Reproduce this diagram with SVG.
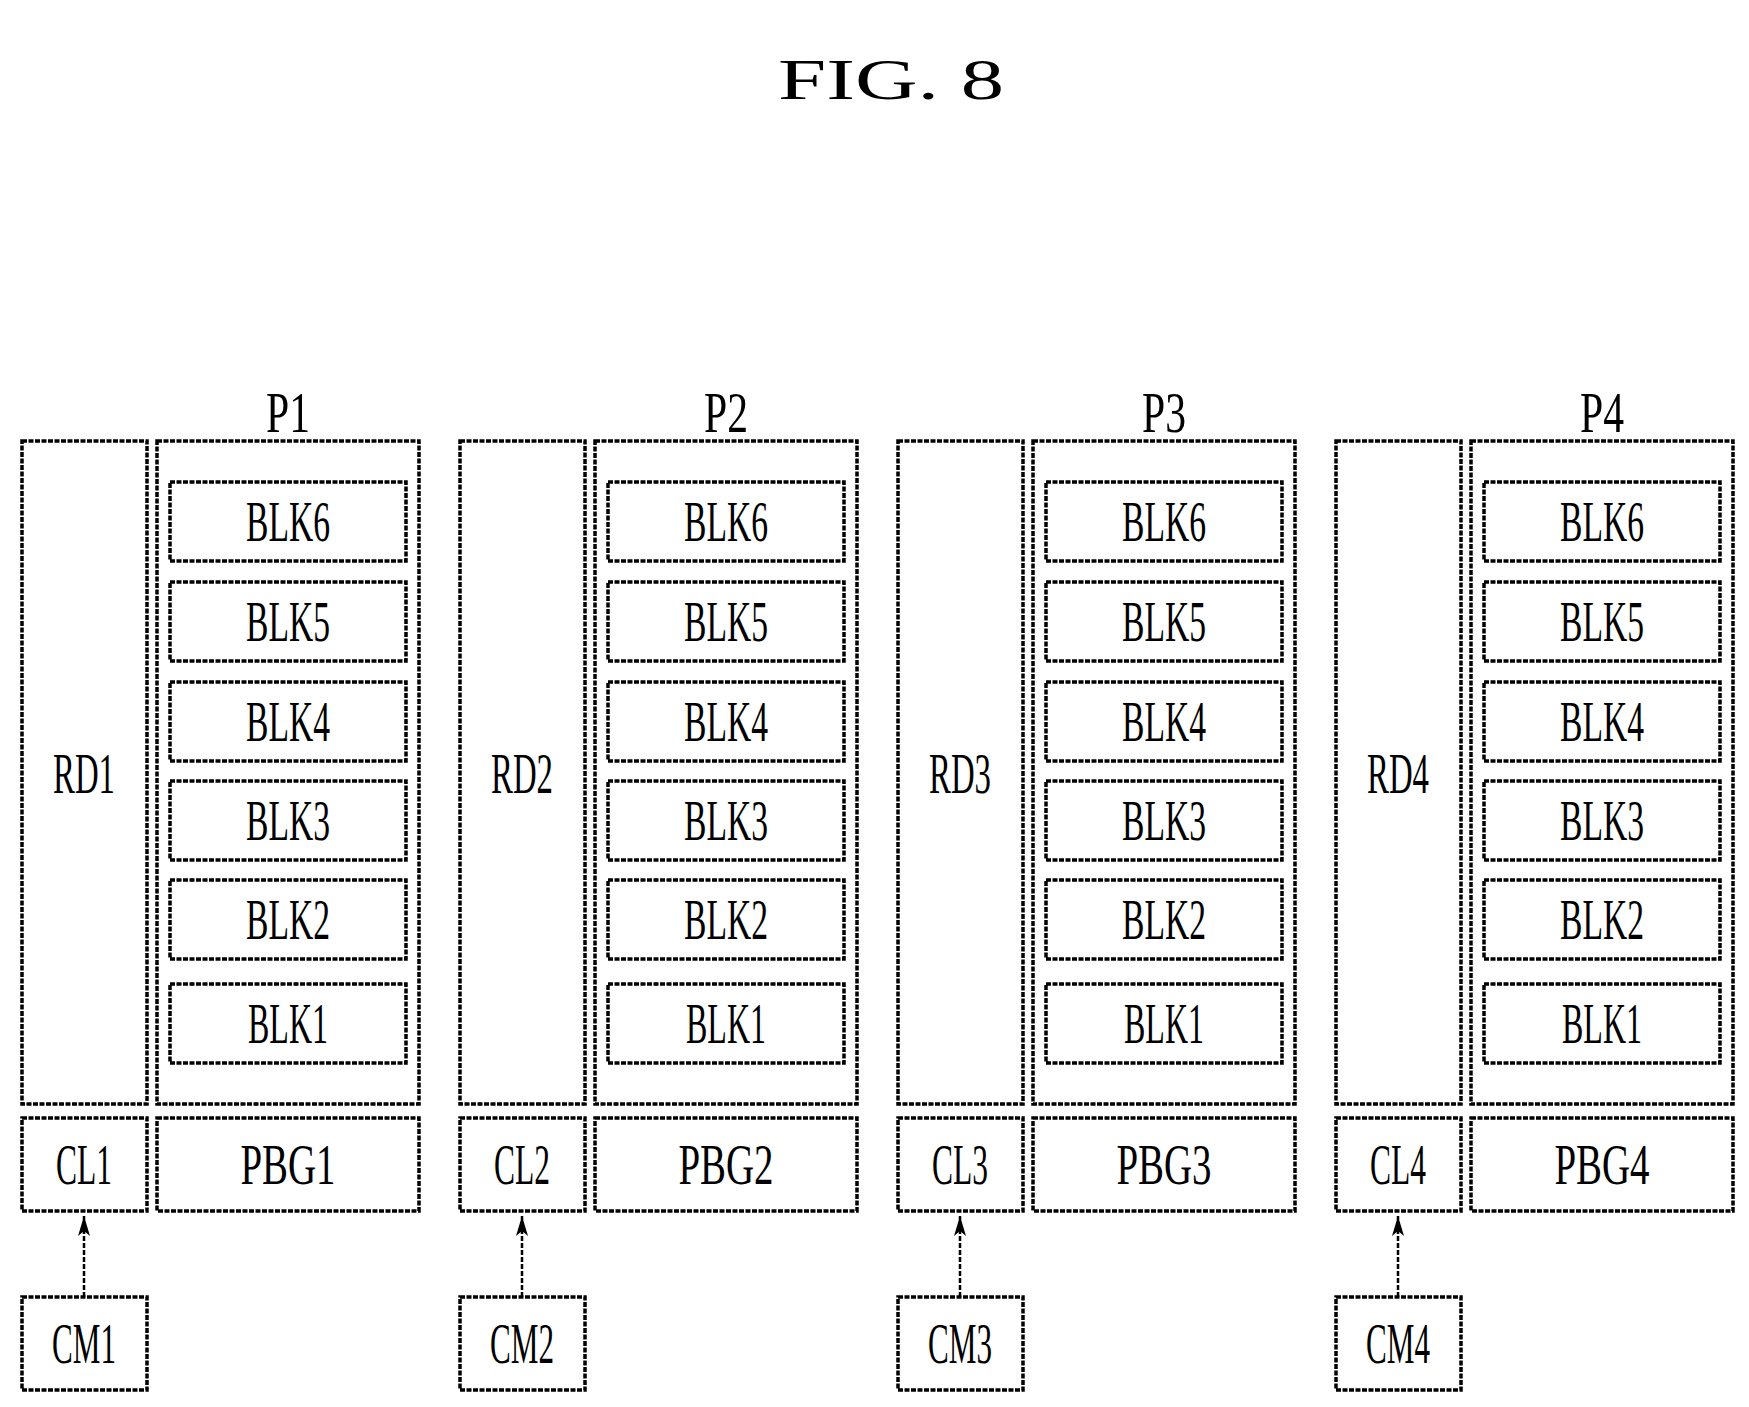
<svg xmlns="http://www.w3.org/2000/svg" width="1749" height="1407" viewBox="0 0 1749 1407">
<style>
rect{fill:none;stroke:#000;stroke-width:3.5;stroke-dasharray:5 1.5}
text{font-family:"Liberation Serif",serif;font-size:58px;text-anchor:middle;fill:#000}
.c{stroke:#000;stroke-width:2.5;stroke-dasharray:5 2;fill:none}
</style>
<defs><marker id="ah" markerWidth="24" markerHeight="14" refX="22" refY="7" orient="auto" markerUnits="userSpaceOnUse"><path d="M22 7 L2 1 L7 7 L2 13 Z" fill="#000"/></marker></defs>
<rect width="1749" height="1407" style="fill:#fff;stroke:none"/>
<text x="891" y="99" font-size="100" textLength="226" lengthAdjust="spacingAndGlyphs">FIG. 8</text>
<g id="col1">
<g id="P1"><text x="288" y="432" textLength="44" lengthAdjust="spacingAndGlyphs">P1</text><rect x="157" y="441" width="262" height="663"/></g>
<g id="RD1"><rect x="22" y="441" width="125" height="663"/><text x="84" y="793" textLength="62" lengthAdjust="spacingAndGlyphs">RD1</text></g>
<g id="P1-BLK6"><rect x="170" y="482" width="236" height="79"/><text x="288" y="541" textLength="84" lengthAdjust="spacingAndGlyphs">BLK6</text></g>
<g id="P1-BLK5"><rect x="170" y="582" width="236" height="79"/><text x="288" y="641" textLength="84" lengthAdjust="spacingAndGlyphs">BLK5</text></g>
<g id="P1-BLK4"><rect x="170" y="682" width="236" height="79"/><text x="288" y="741" textLength="84" lengthAdjust="spacingAndGlyphs">BLK4</text></g>
<g id="P1-BLK3"><rect x="170" y="781" width="236" height="79"/><text x="288" y="840" textLength="84" lengthAdjust="spacingAndGlyphs">BLK3</text></g>
<g id="P1-BLK2"><rect x="170" y="880" width="236" height="79"/><text x="288" y="939" textLength="84" lengthAdjust="spacingAndGlyphs">BLK2</text></g>
<g id="P1-BLK1"><rect x="170" y="984" width="236" height="79"/><text x="288" y="1043" textLength="80" lengthAdjust="spacingAndGlyphs">BLK1</text></g>
<g id="CL1"><rect x="22" y="1118" width="125" height="93"/><text x="84" y="1184" textLength="56" lengthAdjust="spacingAndGlyphs">CL1</text></g>
<g id="PBG1"><rect x="157" y="1118" width="262" height="93"/><text x="288" y="1184" textLength="95" lengthAdjust="spacingAndGlyphs">PBG1</text></g>
<g id="CM1"><rect x="22" y="1297" width="125" height="93"/><text x="84" y="1363" textLength="64" lengthAdjust="spacingAndGlyphs">CM1</text></g>
</g>
<g id="col2" transform="translate(438,0)">
<g id="P2"><text x="288" y="432" textLength="44" lengthAdjust="spacingAndGlyphs">P2</text><rect x="157" y="441" width="262" height="663"/></g>
<g id="RD2"><rect x="22" y="441" width="125" height="663"/><text x="84" y="793" textLength="62" lengthAdjust="spacingAndGlyphs">RD2</text></g>
<g id="P2-BLK6"><rect x="170" y="482" width="236" height="79"/><text x="288" y="541" textLength="84" lengthAdjust="spacingAndGlyphs">BLK6</text></g>
<g id="P2-BLK5"><rect x="170" y="582" width="236" height="79"/><text x="288" y="641" textLength="84" lengthAdjust="spacingAndGlyphs">BLK5</text></g>
<g id="P2-BLK4"><rect x="170" y="682" width="236" height="79"/><text x="288" y="741" textLength="84" lengthAdjust="spacingAndGlyphs">BLK4</text></g>
<g id="P2-BLK3"><rect x="170" y="781" width="236" height="79"/><text x="288" y="840" textLength="84" lengthAdjust="spacingAndGlyphs">BLK3</text></g>
<g id="P2-BLK2"><rect x="170" y="880" width="236" height="79"/><text x="288" y="939" textLength="84" lengthAdjust="spacingAndGlyphs">BLK2</text></g>
<g id="P2-BLK1"><rect x="170" y="984" width="236" height="79"/><text x="288" y="1043" textLength="80" lengthAdjust="spacingAndGlyphs">BLK1</text></g>
<g id="CL2"><rect x="22" y="1118" width="125" height="93"/><text x="84" y="1184" textLength="56" lengthAdjust="spacingAndGlyphs">CL2</text></g>
<g id="PBG2"><rect x="157" y="1118" width="262" height="93"/><text x="288" y="1184" textLength="95" lengthAdjust="spacingAndGlyphs">PBG2</text></g>
<g id="CM2"><rect x="22" y="1297" width="125" height="93"/><text x="84" y="1363" textLength="64" lengthAdjust="spacingAndGlyphs">CM2</text></g>
</g>
<g id="col3" transform="translate(876,0)">
<g id="P3"><text x="288" y="432" textLength="44" lengthAdjust="spacingAndGlyphs">P3</text><rect x="157" y="441" width="262" height="663"/></g>
<g id="RD3"><rect x="22" y="441" width="125" height="663"/><text x="84" y="793" textLength="62" lengthAdjust="spacingAndGlyphs">RD3</text></g>
<g id="P3-BLK6"><rect x="170" y="482" width="236" height="79"/><text x="288" y="541" textLength="84" lengthAdjust="spacingAndGlyphs">BLK6</text></g>
<g id="P3-BLK5"><rect x="170" y="582" width="236" height="79"/><text x="288" y="641" textLength="84" lengthAdjust="spacingAndGlyphs">BLK5</text></g>
<g id="P3-BLK4"><rect x="170" y="682" width="236" height="79"/><text x="288" y="741" textLength="84" lengthAdjust="spacingAndGlyphs">BLK4</text></g>
<g id="P3-BLK3"><rect x="170" y="781" width="236" height="79"/><text x="288" y="840" textLength="84" lengthAdjust="spacingAndGlyphs">BLK3</text></g>
<g id="P3-BLK2"><rect x="170" y="880" width="236" height="79"/><text x="288" y="939" textLength="84" lengthAdjust="spacingAndGlyphs">BLK2</text></g>
<g id="P3-BLK1"><rect x="170" y="984" width="236" height="79"/><text x="288" y="1043" textLength="80" lengthAdjust="spacingAndGlyphs">BLK1</text></g>
<g id="CL3"><rect x="22" y="1118" width="125" height="93"/><text x="84" y="1184" textLength="56" lengthAdjust="spacingAndGlyphs">CL3</text></g>
<g id="PBG3"><rect x="157" y="1118" width="262" height="93"/><text x="288" y="1184" textLength="95" lengthAdjust="spacingAndGlyphs">PBG3</text></g>
<g id="CM3"><rect x="22" y="1297" width="125" height="93"/><text x="84" y="1363" textLength="64" lengthAdjust="spacingAndGlyphs">CM3</text></g>
</g>
<g id="col4" transform="translate(1314,0)">
<g id="P4"><text x="288" y="432" textLength="44" lengthAdjust="spacingAndGlyphs">P4</text><rect x="157" y="441" width="262" height="663"/></g>
<g id="RD4"><rect x="22" y="441" width="125" height="663"/><text x="84" y="793" textLength="62" lengthAdjust="spacingAndGlyphs">RD4</text></g>
<g id="P4-BLK6"><rect x="170" y="482" width="236" height="79"/><text x="288" y="541" textLength="84" lengthAdjust="spacingAndGlyphs">BLK6</text></g>
<g id="P4-BLK5"><rect x="170" y="582" width="236" height="79"/><text x="288" y="641" textLength="84" lengthAdjust="spacingAndGlyphs">BLK5</text></g>
<g id="P4-BLK4"><rect x="170" y="682" width="236" height="79"/><text x="288" y="741" textLength="84" lengthAdjust="spacingAndGlyphs">BLK4</text></g>
<g id="P4-BLK3"><rect x="170" y="781" width="236" height="79"/><text x="288" y="840" textLength="84" lengthAdjust="spacingAndGlyphs">BLK3</text></g>
<g id="P4-BLK2"><rect x="170" y="880" width="236" height="79"/><text x="288" y="939" textLength="84" lengthAdjust="spacingAndGlyphs">BLK2</text></g>
<g id="P4-BLK1"><rect x="170" y="984" width="236" height="79"/><text x="288" y="1043" textLength="80" lengthAdjust="spacingAndGlyphs">BLK1</text></g>
<g id="CL4"><rect x="22" y="1118" width="125" height="93"/><text x="84" y="1184" textLength="56" lengthAdjust="spacingAndGlyphs">CL4</text></g>
<g id="PBG4"><rect x="157" y="1118" width="262" height="93"/><text x="288" y="1184" textLength="95" lengthAdjust="spacingAndGlyphs">PBG4</text></g>
<g id="CM4"><rect x="22" y="1297" width="125" height="93"/><text x="84" y="1363" textLength="64" lengthAdjust="spacingAndGlyphs">CM4</text></g>
</g>
<g id="connectors">
<path class="c" d="M84 1297 V1216" marker-end="url(#ah)"/>
<path class="c" d="M522 1297 V1216" marker-end="url(#ah)"/>
<path class="c" d="M960 1297 V1216" marker-end="url(#ah)"/>
<path class="c" d="M1398 1297 V1216" marker-end="url(#ah)"/>
</g>
</svg>
